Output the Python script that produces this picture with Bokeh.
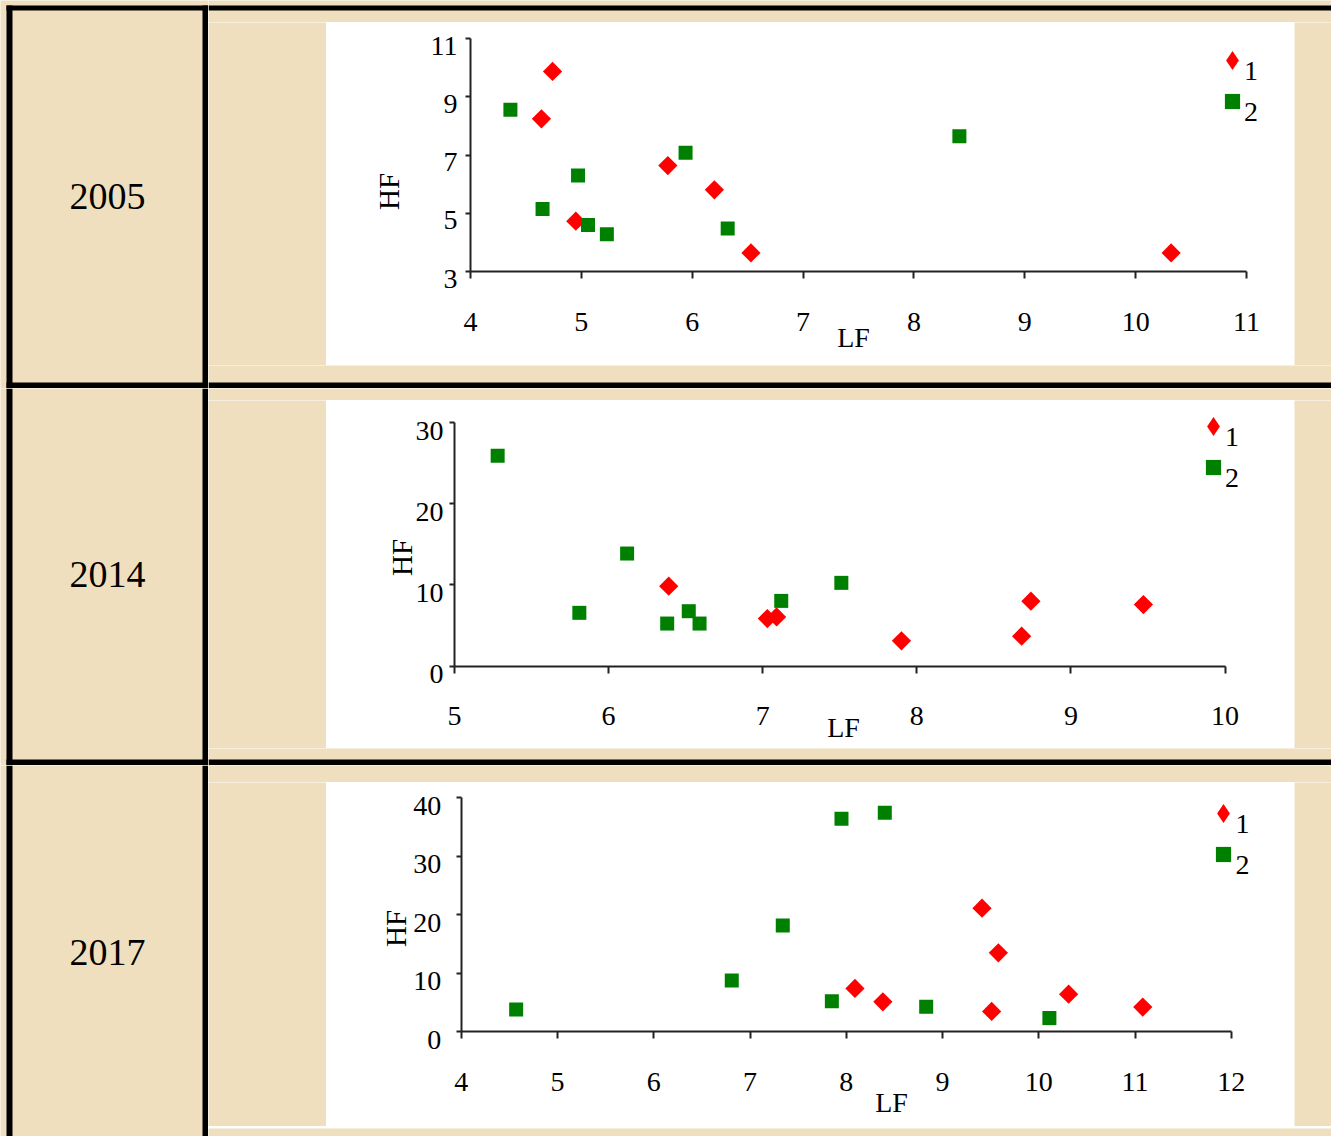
import math
from bokeh.plotting import figure
from bokeh.models import Range1d, Legend, LegendItem, Label, FixedTicker, LinearAxis
from bokeh.layouts import row, column
from bokeh.core.properties import value
from bokeh.embed import file_html
from bokeh.resources import INLINE

# ---------------- data ----------------
YEARS = ["2005", "2014", "2017"]
SERIES = ["1", "2"]
X_LABEL = "LF"
Y_LABEL = "HF"

lf05_1 = [4.74, 4.64, 4.95, 5.78, 6.20, 6.53, 10.32]
hf05_1 = [9.88, 8.25, 4.73, 6.64, 5.81, 3.64, 3.64]
lf05_2 = [4.36, 4.65, 4.97, 5.06, 5.23, 5.94, 6.32, 8.41]
hf05_2 = [8.56, 5.15, 6.30, 4.60, 4.28, 7.08, 4.48, 7.65]

lf14_1 = [6.39, 7.03, 7.09, 7.90, 8.68, 8.74, 9.47]
hf14_1 = [9.85, 5.87, 6.07, 3.12, 3.69, 8.00, 7.59]
lf14_2 = [5.28, 5.81, 6.12, 6.38, 6.52, 6.59, 7.12, 7.51]
hf14_2 = [25.9, 6.57, 13.87, 5.25, 6.77, 5.25, 8.04, 10.26]

lf17_1 = [8.09, 8.38, 9.41, 9.51, 9.58, 10.31, 11.08]
hf17_1 = [7.41, 5.13, 21.14, 3.48, 13.5, 6.44, 4.22]
lf17_2 = [4.57, 6.81, 7.34, 7.85, 7.95, 8.40, 8.83, 10.11]
hf17_2 = [3.82, 8.77, 18.18, 5.24, 36.4, 37.44, 4.27, 2.34]

x_ticks_05 = [4, 5, 6, 7, 8, 9, 10, 11]
y_ticks_05 = [3, 5, 7, 9, 11]
x_ticks_14 = [5, 6, 7, 8, 9, 10]
y_ticks_14 = [0, 10, 20, 30]
x_ticks_17 = [4, 5, 6, 7, 8, 9, 10, 11, 12]
y_ticks_17 = [0, 10, 20, 30, 40]

# ---------------- style ----------------
PARCH = "#EFDFBE"
FONT = "Liberation Serif"
RED = "#FF0000"
GREEN = "#008000"
AXIS = "#222222"


def deco(w, h, quads=(), texts=()):
    p = figure(width=w, height=h, x_range=Range1d(0, w), y_range=Range1d(h, 0),
               x_axis_location=None, y_axis_location=None, toolbar_location=None,
               tools="", min_border=0, outline_line_color=None,
               background_fill_color=PARCH, border_fill_color=PARCH,
               output_backend="svg")
    p.grid.visible = False
    if quads:
        p.quad(left=[q[0] for q in quads], right=[q[1] for q in quads],
               top=[q[2] for q in quads], bottom=[q[3] for q in quads],
               fill_color="black", line_color=None)
    for (x, y, t) in texts:
        p.text(x=[x], y=[y], text=[t], text_font=value(FONT), text_font_size="38px",
               text_align="center", text_baseline="middle", text_color="black")
    return p


def style_axis(ax):
    ax.axis_line_color = AXIS
    ax.axis_line_width = 2
    ax.major_tick_line_color = AXIS
    ax.major_tick_line_width = 2
    ax.major_tick_in = 0
    ax.minor_tick_line_color = None
    ax.major_label_text_font = FONT
    ax.major_label_text_font_size = "28px"
    ax.major_label_text_color = "black"


def plain_legend(items, x1, top, h, gw, gh, lh, spacing, n):
    spacing = int(round(spacing))
    height = n * lh + (n - 1) * spacing
    return Legend(items=items, location=(x1, h - top - height),
                  glyph_width=int(gw), glyph_height=int(gh), label_height=int(lh),
                  label_width=10, spacing=spacing, padding=0, margin=0,
                  border_line_color=None, background_fill_alpha=0, label_standoff=0,
                  label_text_font=FONT, label_text_font_size="28px",
                  label_text_color="black")


def chart(w, h, axpx, xr, yr, xt, yt, lf1, hf1, lf2, hf2, ystand, ydrop,
          red_key, green_key, lf_xy, hf_xy):
    # axpx: pixel position of the axes box inside the white panel (left, right, top, bottom)
    al, ar, at, ab = axpx
    ppx = (ar - al) / (xr[1] - xr[0])
    ppy = (ab - at) / (yr[1] - yr[0])
    y0 = yr[0] - (h - ab) / ppy
    y1 = yr[1] + at / ppy
    p = figure(width=w, height=h,
               x_range=Range1d(xr[0] - al / ppx, xr[1] + (w - ar) / ppx),
               y_range=Range1d(y0, y1),
               min_border=0, toolbar_location=None, tools="",
               background_fill_color="white", border_fill_color="white",
               outline_line_color=None, output_backend="svg")
    p.grid.visible = False
    # narrow diamonds hidden under the red markers; they supply the legend key
    key1 = p.scatter(lf1, hf1, marker="diamond", size=12, fill_color=RED, line_color=None)
    p.scatter(lf1, hf1, marker="square", angle=math.pi / 4, size=13.6,
              fill_color=RED, line_color=None)
    r2 = p.scatter(lf2, hf2, marker="square", size=14,
                   fill_color=GREEN, line_color=None)

    style_axis(p.xaxis[0])
    style_axis(p.yaxis[0])
    p.xaxis.fixed_location = yr[0]
    p.yaxis.fixed_location = xr[0]
    p.xaxis.bounds = xr
    p.yaxis.bounds = yr
    p.xaxis.ticker = FixedTicker(ticks=xt)
    p.yaxis.ticker = FixedTicker(ticks=yt)
    p.xaxis.major_tick_out = 7
    p.yaxis.major_tick_out = 5
    p.xaxis.major_label_standoff = 34
    p.yaxis.major_label_overrides = {t: "" for t in yt}

    # y tick labels sit slightly below their ticks in the original
    d = ydrop / ppy
    p.extra_y_ranges = {"lab": Range1d(y0 + d, y1 + d)}
    lab = LinearAxis(y_range_name="lab", fixed_location=xr[0],
                     ticker=FixedTicker(ticks=yt))
    style_axis(lab)
    lab.axis_line_color = None
    lab.major_tick_line_color = None
    lab.major_tick_out = 5
    lab.major_label_standoff = ystand
    p.add_layout(lab, "left")

    # legend keys (one legend per series so each key has its own size)
    for rend, key, g in ((key1, red_key, 48), (r2, green_key, 38)):
        gx, gy = key
        p.add_layout(plain_legend([LegendItem(label="", renderers=[rend])],
                                  gx - g / 2, gy - g / 2, h, g, g, g, 0, 1))
    # legend texts: below-right of the keys, as in the original
    lx = red_key[0] + 12.5
    ly = red_key[1] + 11 - 18
    p.add_layout(plain_legend([LegendItem(label=SERIES[0], renderers=[key1]),
                               LegendItem(label=SERIES[1], renderers=[r2])],
                              lx - 1, ly, h, 1, 1, 36, green_key[1] - red_key[1] - 36, 2))

    p.add_layout(Label(x=lf_xy[0], y=h - lf_xy[1], x_units="screen", y_units="screen",
                       text=X_LABEL, text_font=FONT, text_font_size="28px",
                       text_align="center", text_baseline="middle", text_color="black"))
    p.add_layout(Label(x=hf_xy[0], y=h - hf_xy[1], x_units="screen", y_units="screen",
                       text=Y_LABEL, angle=math.pi / 2, text_font=FONT,
                       text_font_size="29px", text_align="center",
                       text_baseline="middle", text_color="black"))
    return p


c1 = chart(968, 343, (144, 920, 16.3, 249), (4, 11), (3, 11), x_ticks_05, y_ticks_05,
           lf05_1, hf05_1, lf05_2, hf05_2, 8, 7,
           (905.5, 37.5), (905.5, 78.5), (527, 315), (62, 169))
c2 = chart(968, 348, (128, 898.6, 22, 265.7), (5, 10), (0, 30), x_ticks_14, y_ticks_14,
           lf14_1, hf14_1, lf14_2, hf14_2, 6, 8,
           (886.5, 25.7), (886.5, 67), (517, 327), (75, 157))
c3 = chart(968, 344, (134.8, 904.8, 15.3, 249.3), (4, 12), (0, 40), x_ticks_17, y_ticks_17,
           lf17_1, hf17_1, lf17_2, hf17_2, 15, 8,
           (897, 30.7), (897, 72), (565, 320), (69, 146))

# ---------------- table ----------------
left1 = deco(208, 388, quads=[(6, 12, 5, 388), (6, 208, 5, 10), (202, 208, 5, 388),
                              (6, 208, 382, 388)],
             texts=[(107, 196, YEARS[0])])
left2 = deco(208, 377, quads=[(6, 12, 0, 377), (202, 208, 0, 377), (6, 208, 371, 377)],
             texts=[(107, 186, YEARS[1])])
left3 = deco(208, 371, quads=[(6, 12, 0, 371), (202, 208, 0, 371)],
             texts=[(107, 187, YEARS[2])])

block1 = row(left1, column(deco(1123, 22, quads=[(0, 1123, 5, 10)]),
                           row(deco(118, 343), c1, deco(37, 343)),
                           deco(1123, 23, quads=[(0, 1123, 17, 23)])))
block2 = row(left2, column(deco(1123, 12),
                           row(deco(118, 348), c2, deco(37, 348)),
                           deco(1123, 17, quads=[(0, 1123, 11, 17)])))
block3 = row(left3, column(deco(1123, 17),
                           row(deco(118, 344), c3, deco(37, 344)),
                           deco(1123, 10)))

root = column(block1, block2, block3)

open("out.html", "w").write(file_html(root, INLINE))
